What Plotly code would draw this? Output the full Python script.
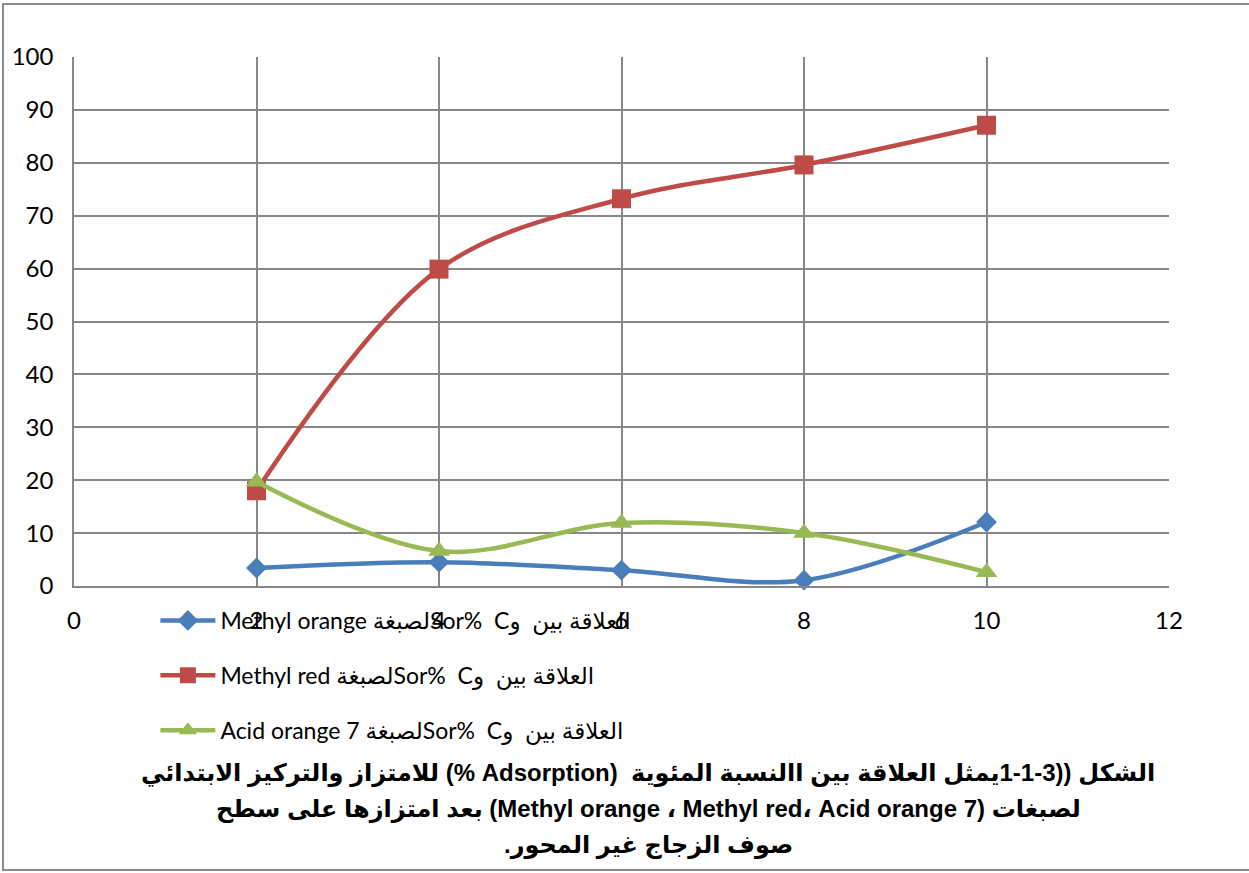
import plotly.graph_objects as go

# Initial concentration (x) and adsorption percentage (y) for each dye
conc = [2, 4, 6, 8, 10]
methyl_orange = [3.4, 4.5, 3.0, 1.1, 12.1]
methyl_red = [18.0, 59.9, 73.2, 79.6, 87.1]
acid_orange7 = [19.7, 6.6, 11.9, 10.0, 2.6]

x_ticks = [0, 2, 4, 6, 8, 10, 12]
y_ticks = [0, 10, 20, 30, 40, 50, 60, 70, 80, 90, 100]

RLI, LRI, PDI = "\u2067", "\u2066", "\u2069"


def legend_name(dye):
    return RLI + "العلاقة بين  وC  " + LRI + "Sor%" + PDI + "لصبغة " + dye + PDI


names = [legend_name("Methyl orange"), legend_name("Methyl red"), legend_name("Acid orange 7")]
series = [methyl_orange, methyl_red, acid_orange7]
colors = ["#4A7EBB", "#BE4B48", "#98B954"]
symbols = ["diamond", "square", "triangle-up"]
sizes = [16, 19, 19]

caption_lines = [
    "الشكل ((3-1-1يمثل العلاقة بين االنسبة المئوية  (Adsorption %) للامتزاز والتركيز الابتدائي",
    "لصبغات (Methyl orange ، Methyl red، Acid orange 7) بعد امتزازها على سطح",
    "صوف الزجاج غير المحور.",
]
caption_y = [773, 809, 845]

fig = go.Figure()
for i, (name, ys) in enumerate(zip(names, series)):
    fig.add_trace(go.Scatter(
        x=conc, y=ys, name=name, mode="lines+markers",
        line=dict(color=colors[i], width=4.5, shape="spline", smoothing=1.0),
        marker=dict(symbol=symbols[i], size=sizes[i], color=colors[i]),
        legendgroup=f"g{i}",
        cliponaxis=False,
    ))

grid = "#878787"
fig.update_layout(
    width=1249, height=873,
    margin=dict(l=74, r=80, t=57, b=287, autoexpand=False),
    paper_bgcolor="white", plot_bgcolor="white",
    font=dict(family="Lato, DejaVu Sans, sans-serif", size=24, color="black"),
    showlegend=True,
    legend=dict(
        xref="container", yref="container",
        x=0.1244, y=1 - 599 / 873, xanchor="left", yanchor="top",
        font=dict(size=23, family="Lato, DejaVu Sans, sans-serif"),
        bgcolor="rgba(0,0,0,0)",
        tracegroupgap=22, itemwidth=55, traceorder="grouped",
    ),
    xaxis=dict(
        range=[0, 12], tickvals=x_ticks, showgrid=True, gridcolor=grid, gridwidth=1.5,
        showline=True, linecolor=grid, linewidth=1.5, zeroline=False,
        ticks="", ticklabelstandoff=12, mirror=False,
    ),
    yaxis=dict(
        range=[0, 100], tickvals=y_ticks, showgrid=True, gridcolor=grid, gridwidth=1.5,
        showline=True, linecolor=grid, linewidth=1.5, zeroline=False,
        ticks="", ticklabelstandoff=14,
    ),
    shapes=[
        dict(type="rect", xref="paper", yref="paper",
             x0=(3 - 74) / 1095, x1=(1260 - 74) / 1095,
             y0=(586 - 870) / 529, y1=(586 - 4) / 529,
             line=dict(color="#8C8C8C", width=2), layer="below"),
    ],
    annotations=[
        dict(
            xref="paper", yref="paper",
            x=(648 - 74) / 1095, y=(586 - cy) / 529,
            xanchor="center", yanchor="middle", showarrow=False,
            text=RLI + ln + PDI,
            font=dict(family="Liberation Sans, DejaVu Sans, sans-serif", size=24,
                      color="black", weight="bold"),
        )
        for ln, cy in zip(caption_lines, caption_y)
    ],
)

fig.write_html("out.html")
